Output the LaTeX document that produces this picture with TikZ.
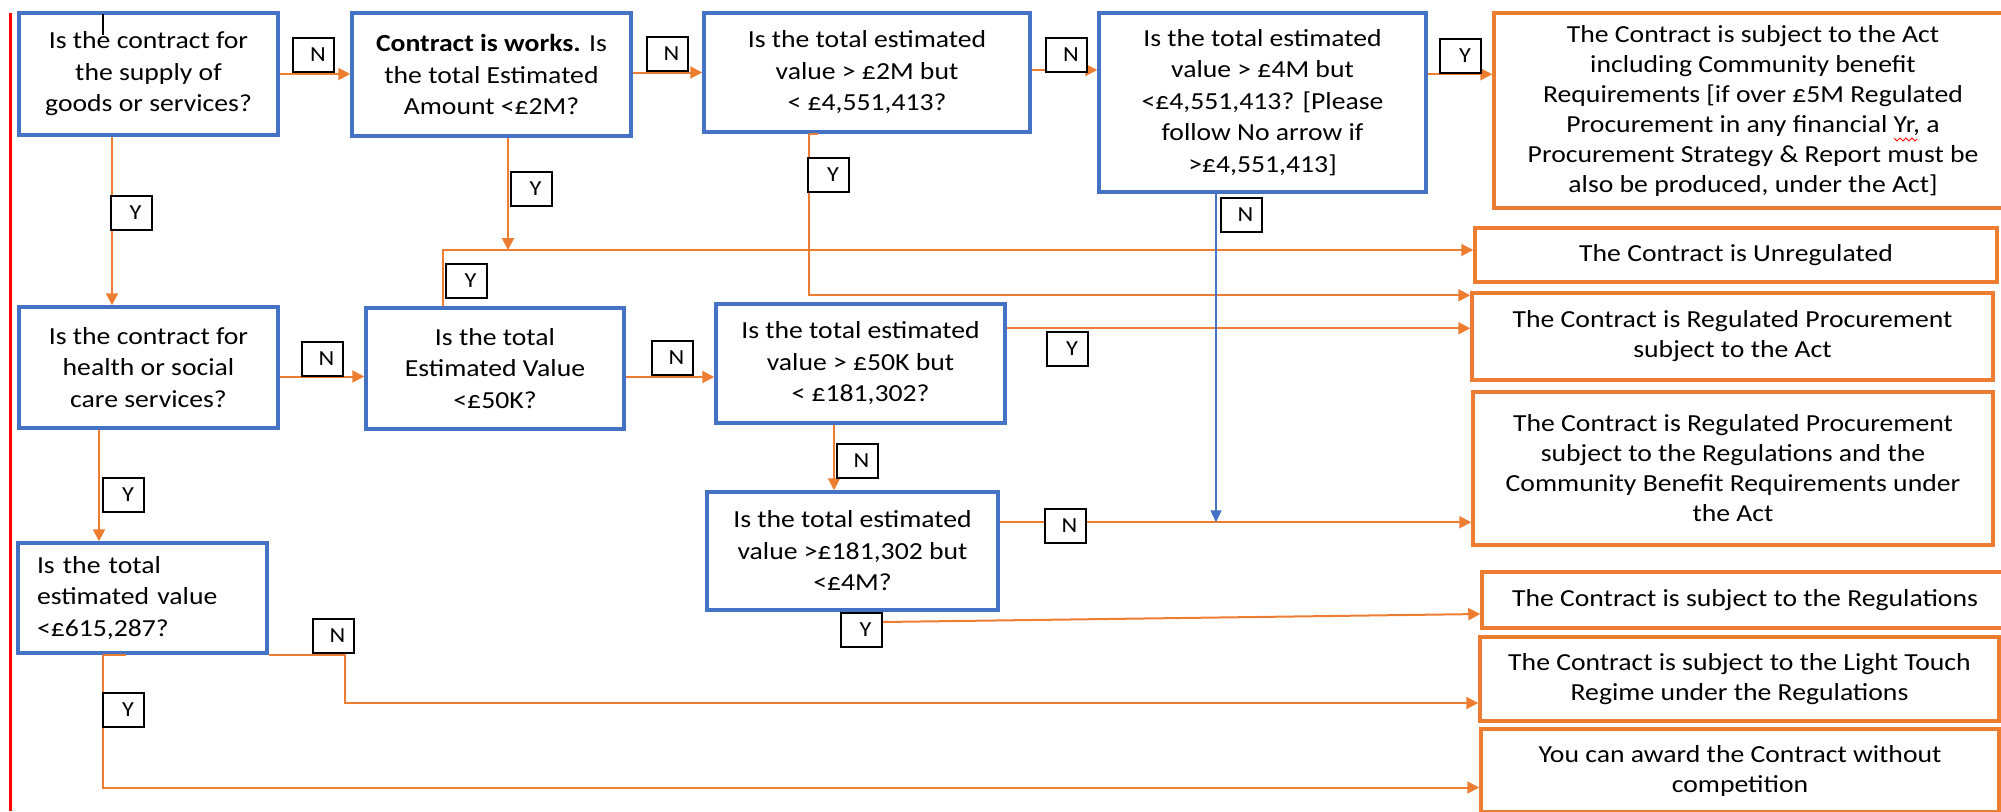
\documentclass[tikz,border=0pt]{standalone}
\usepackage{fontspec}
\setmainfont{Carlito}[FakeStretch=1.13]
\usetikzlibrary{arrows.meta,calc,backgrounds}
\definecolor{ofcorange}{RGB}{237,125,49}
\definecolor{ofcblue}{RGB}{68,114,196}
\definecolor{ofcred}{RGB}{255,0,0}
\newcommand{\ynlab}[1]{\hspace*{9pt}#1}
\begin{document}
\begin{tikzpicture}[x=1pt,y=-1pt,
  qbox/.style={draw=ofcblue, line width=3.5pt, inner sep=0pt, align=center, font=\fontsize{24.5}{31.5}\selectfont},
  obox/.style={draw=ofcorange, line width=3.5pt, inner sep=0pt, align=center, font=\fontsize{24.5}{30}\selectfont},
  conn/.style={draw=ofcorange, line width=2pt},
  arr/.style={conn, -{Triangle[length=12pt,width=12pt]}},
  bluearr/.style={draw=ofcblue, line width=1.6pt, -{Triangle[length=12pt,width=11pt]}},
  yn/.style={draw=black, fill=white, line width=2pt, minimum width=41pt, minimum height=34pt, inner sep=0pt, font=\fontsize{21.5}{24}\selectfont},
]
\useasboundingbox (0,0) rectangle (2001,811);
\clip (0,0) rectangle (2001,811);

% question boxes
\node[qbox, minimum width=259pt, minimum height=122pt] (A) at (148.5,74) {Is the contract for\\the supply of\\goods or services?};
\node[qbox, minimum width=279pt, minimum height=123pt] (B) at (491.5,74.5) {\textbf{Contract is works.} Is\\the total Estimated\\Amount <£2M?};
\node[qbox, minimum width=326pt, minimum height=119pt] (C) at (867,72.5) {Is the total estimated\\value > £2M but\\< £4,551,413?};
\node[qbox, minimum width=327pt, minimum height=179pt] (G) at (1262.5,102.5) {Is the total estimated\\value > £4M but\\<£4,551,413? [Please\\follow No arrow if\\>£4,551,413]};
\node[qbox, minimum width=259pt, minimum height=121pt] (D) at (148.5,367.5) {Is the contract for\\health or social\\care services?};
\node[qbox, minimum width=258pt, minimum height=121pt] (E) at (495,368.5) {Is the total\\Estimated Value\\<£50K?};
\node[qbox, minimum width=289pt, minimum height=119pt] (F) at (860.5,363.5) {Is the total estimated\\value > £50K but\\< £181,302?};
\node[qbox, minimum width=291pt, minimum height=118pt] (M) at (852.5,551) {Is the total estimated\\value >£181,302 but\\<£4M?};
\node[qbox, align=left, text width=211pt, inner xsep=19pt, minimum height=110pt] (K) at (142.5,598) {Is the total\\estimated value\\<£615,287?};

% outcome boxes
\node[obox, minimum width=518pt, minimum height=195pt] (H) at (1753,110.5) {The Contract is subject to the Act\\including Community benefit\\Requirements [if over £5M Regulated\\Procurement in any financial Yr, a\\Procurement Strategy \& Report must be\\also be produced, under the Act]};
\node[obox, minimum width=522pt, minimum height=54pt] (U) at (1736,255) {The Contract is Unregulated};
\node[obox, minimum width=521pt, minimum height=87pt] (R) at (1732.5,336.5) {The Contract is Regulated Procurement\\subject to the Act};
\node[obox, minimum width=520pt, minimum height=153pt] (RR) at (1733,468.5) {The Contract is Regulated Procurement\\subject to the Regulations and the\\Community Benefit Requirements under\\the Act};
\node[obox, minimum width=526pt, minimum height=56pt] (S) at (1745,600) {The Contract is subject to the Regulations};
\node[obox, minimum width=519pt, minimum height=84pt] (LT) at (1739.5,679) {The Contract is subject to the Light Touch\\Regime under the Regulations};
\node[obox, minimum width=518pt, minimum height=83pt] (W) at (1740,770.5) {You can award the Contract without\\competition};

% Y / N labels
\node[yn] (n1) at (313.5,54.5) {\ynlab{N}};
\node[yn] (n2) at (667,54) {\ynlab{N}};
\node[yn] (n3) at (1066.5,54.5) {\ynlab{N}};
\node[yn] (y4) at (1460.5,56) {\ynlab{Y}};
\node[yn] (y5) at (531,189) {\ynlab{Y}};
\node[yn] (y6) at (466,280.5) {\ynlab{Y}};
\node[yn] (y7) at (131,213) {\ynlab{Y}};
\node[yn] (y8) at (828.5,175) {\ynlab{Y}};
\node[yn] (n9) at (1241,215) {\ynlab{N}};
\node[yn] (n10) at (322,359) {\ynlab{N}};
\node[yn] (n11) at (672,358) {\ynlab{N}};
\node[yn] (y12) at (1067.5,348.5) {\ynlab{Y}};
\node[yn] (n13) at (857,460.5) {\ynlab{N}};
\node[yn] (n14) at (1065,526) {\ynlab{N}};
\node[yn] (y15) at (861,630) {\ynlab{Y}};
\node[yn] (y16) at (123.5,495) {\ynlab{Y}};
\node[yn] (n17) at (333,635.5) {\ynlab{N}};
\node[yn] (y18) at (123.5,709.5) {\ynlab{Y}};

\coordinate (uj) at (443,250);
\coordinate (mr) at ([yshift=-32pt]M.north east);

\begin{pgfonlayer}{background}
\draw[arr] (A.east) -- (A.east -| B.west);
\draw[arr] (B.east |- C.west) -- (C.west);
\draw[arr] ([yshift=2.5pt]C.east) -- ([yshift=2.5pt]C.east -| G.west);
\draw[arr] ([yshift=-63pt]G.north east) -- ([yshift=-63pt]G.north east -| H.west);
\draw[arr] ([xshift=-52pt]E.north) -- (uj) -- (uj -| U.west);
\draw[arr] ([xshift=16.5pt]B.south) -- ([xshift=16.5pt]B.south |- uj);
\draw[arr] ([xshift=-36.5pt]A.south) -- ([xshift=-36.5pt]A.south |- D.north);
\draw[arr] ([yshift=-9pt]D.east) -- ([yshift=-9pt]D.east -| E.west);
\draw[arr] ([yshift=-8.5pt]E.east) -- ([yshift=-8.5pt]E.east -| F.west);
\draw[arr] ([xshift=-58pt]C.south) |- ([yshift=-4pt]R.north west);
\draw[arr] ([yshift=-26pt]F.north east) -- ([yshift=-26pt]F.north east -| R.west);
\draw[arr] ([xshift=-26.5pt]F.south) -- ([xshift=-18.5pt]M.north);
\draw[arr] (mr) -- (mr -| RR.west);
\draw[bluearr] ([xshift=-46.5pt]G.south) -- ([xshift=-46.5pt]G.south |- mr);
\draw[arr] ([yshift=8pt]y15.east) -- ([yshift=-14pt]S.west);
\draw[arr] ([xshift=-49.5pt]D.south) -- ([xshift=-49.5pt]D.south |- K.north);
\draw[arr] (K.south east) -- ([xshift=76pt]K.south east) |- ([yshift=-24pt]LT.west);
\draw[arr] ([xshift=-39.5pt]K.south) |- ([yshift=-17pt]W.west);
\end{pgfonlayer}

% small orange stubs over box borders
\draw[conn] ([xshift=-39.5pt]K.south) -- ++(23,0);
\draw[conn] ([xshift=-58pt]C.south) -- ++(9,0);

% red margin line and text cursor
\draw[ofcred, line width=3pt] (10,13) -- (10,811);
\draw[black, line width=1.3pt] (103,14) -- (103,35);
% spell-check squiggle under "Yr"
\draw[ofcred, line width=1pt] (1894,138) -- (1897,141) -- (1900,138) -- (1903,141) -- (1906,138) -- (1909,141) -- (1912,138) -- (1915,141) -- (1917,139);
\end{tikzpicture}
\end{document}
